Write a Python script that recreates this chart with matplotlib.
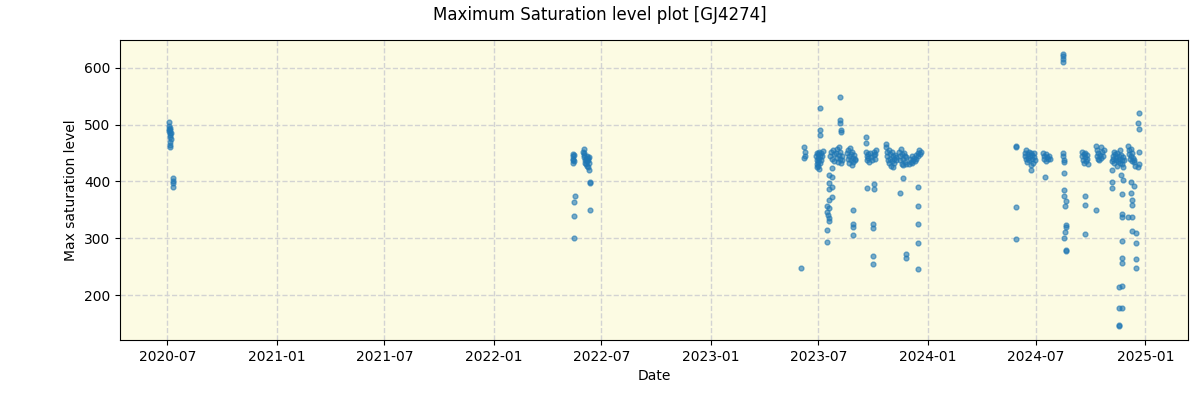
import numpy as np
import pandas as pd
import matplotlib
matplotlib.use('Agg')
import matplotlib.pyplot as plt
import matplotlib.dates as mdates

# season 2020
dates_2020 = ['2020-07-03', '2020-07-03', '2020-07-03', '2020-07-04', '2020-07-05', '2020-07-05',
              '2020-07-06', '2020-07-06', '2020-07-06', '2020-07-07', '2020-07-07', '2020-07-06',
              '2020-07-06', '2020-07-06', '2020-07-11', '2020-07-11', '2020-07-11', '2020-07-11']
sat_2020 = [505, 497, 492, 488, 495, 485, 490, 482, 478, 486, 475, 470, 465, 461, 406, 401, 398, 391]

# season 2022
dates_2022 = ['2022-05-14', '2022-05-14', '2022-05-15', '2022-05-15', '2022-05-15', '2022-05-16',
              '2022-05-16', '2022-05-17', '2022-05-16', '2022-05-16', '2022-05-16',
              '2022-05-31', '2022-06-01', '2022-06-02', '2022-06-02', '2022-06-02', '2022-06-03',
              '2022-06-04', '2022-06-05', '2022-06-05', '2022-06-06', '2022-06-07', '2022-06-07',
              '2022-06-08', '2022-06-08', '2022-06-09', '2022-06-10', '2022-06-10', '2022-06-11',
              '2022-06-12', '2022-06-12', '2022-06-12']
sat_2022 = [448, 444, 440, 437, 433, 446, 436, 375, 363, 339, 300,
            452, 447, 457, 450, 443, 438, 433, 440, 430, 445, 436, 428, 441, 425, 438, 432, 443,
            420, 399, 398, 349]

# season 2023
dates_2023 = ['2023-06-02',
              '2023-06-07', '2023-06-08', '2023-06-08', '2023-06-07',
              '2023-06-27', '2023-06-28', '2023-06-28', '2023-06-29', '2023-06-29', '2023-06-30',
              '2023-06-30', '2023-07-01', '2023-07-01', '2023-07-02', '2023-07-02', '2023-07-02',
              '2023-07-03', '2023-07-03', '2023-07-03', '2023-07-04', '2023-07-04', '2023-07-05',
              '2023-07-06', '2023-07-07', '2023-07-08',
              '2023-07-24', '2023-07-19', '2023-07-24', '2023-07-19', '2023-07-19', '2023-07-24',
              '2023-07-24', '2023-07-19', '2023-07-16', '2023-07-19', '2023-07-16', '2023-07-17',
              '2023-07-19', '2023-07-19', '2023-07-16', '2023-07-16',
              '2023-07-21', '2023-07-23', '2023-07-24', '2023-07-26', '2023-07-27', '2023-07-28',
              '2023-07-30', '2023-08-01', '2023-08-02', '2023-08-03', '2023-08-04', '2023-08-05',
              '2023-08-06', '2023-08-07', '2023-08-08', '2023-08-09', '2023-08-10',
              '2023-08-06', '2023-08-06', '2023-08-06', '2023-08-08', '2023-08-08',
              '2023-08-18', '2023-08-19', '2023-08-20', '2023-08-21', '2023-08-22', '2023-08-23',
              '2023-08-24', '2023-08-25', '2023-08-26', '2023-08-27', '2023-08-28', '2023-08-29',
              '2023-08-30', '2023-08-31', '2023-09-01',
              '2023-08-28', '2023-08-28', '2023-08-28', '2023-08-28',
              '2023-09-19', '2023-09-19', '2023-09-19', '2023-09-20', '2023-09-20', '2023-09-21',
              '2023-09-22', '2023-09-23', '2023-09-24', '2023-09-26', '2023-09-28', '2023-09-30',
              '2023-10-02', '2023-10-03', '2023-10-03', '2023-10-03', '2023-10-01', '2023-10-01',
              '2023-10-01', '2023-10-01', '2023-10-04', '2023-10-05', '2023-10-06',
              '2023-10-23', '2023-10-23', '2023-10-24', '2023-10-25', '2023-10-26', '2023-10-27',
              '2023-10-28', '2023-10-29', '2023-10-30', '2023-10-31', '2023-11-01', '2023-11-02',
              '2023-11-03', '2023-11-04', '2023-11-05', '2023-11-06', '2023-11-07', '2023-11-08',
              '2023-11-09',
              '2023-11-14', '2023-11-15', '2023-11-16', '2023-11-17', '2023-11-18', '2023-11-19',
              '2023-11-20', '2023-11-21', '2023-11-22', '2023-11-23', '2023-11-24', '2023-11-25',
              '2023-11-26', '2023-11-21', '2023-11-15', '2023-11-26', '2023-11-26',
              '2023-12-01', '2023-12-02', '2023-12-03', '2023-12-05', '2023-12-06', '2023-12-07',
              '2023-12-09', '2023-12-10', '2023-12-12', '2023-12-13', '2023-12-15', '2023-12-16',
              '2023-12-18', '2023-12-19', '2023-12-20',
              '2023-12-16', '2023-12-16', '2023-12-16', '2023-12-16', '2023-12-16']
sat_2023 = [247,
            460, 452, 445, 441,
            445, 438, 430, 450, 425, 442, 435, 448, 428, 452, 440, 422, 529, 491, 482, 445, 432,
            450, 438, 444, 453,
            424, 411, 408, 397, 387, 390, 373, 367, 357, 353, 346, 341, 336, 331, 315, 294,
            445, 452, 440, 455, 448, 436, 450, 442, 458, 435, 461, 447, 452, 440, 433, 445, 438,
            549, 508, 503, 490, 487,
            450, 440, 455, 432, 445, 459, 437, 448, 429, 452, 442, 435, 447, 440, 438,
            350, 325, 320, 306,
            478, 468, 452, 445, 438, 388, 448, 441, 435, 450, 443, 437, 452, 446, 396, 387, 325,
            318, 269, 255, 440, 449, 455,
            466, 460, 452, 445, 438, 456, 432, 448, 440, 428, 452, 436, 445, 426, 440, 433, 447,
            437, 443,
            452, 445, 438, 457, 430, 448, 440, 429, 451, 435, 445, 430, 443, 406, 380, 272, 265,
            430, 440, 435, 445, 432, 438, 442, 436, 447, 440, 450, 444, 455, 448, 452,
            390, 357, 325, 292, 246]

# season 2024
dates_2024 = ['2024-05-28', '2024-05-28', '2024-05-28', '2024-05-28',
              '2024-06-12', '2024-06-13', '2024-06-14', '2024-06-15', '2024-06-16', '2024-06-17',
              '2024-06-18', '2024-06-19', '2024-06-20', '2024-06-21', '2024-06-22', '2024-06-22',
              '2024-06-23', '2024-06-24', '2024-06-25', '2024-06-26', '2024-06-27', '2024-06-28',
              '2024-06-29',
              '2024-07-13', '2024-07-14', '2024-07-15', '2024-07-16', '2024-07-17', '2024-07-18',
              '2024-07-19', '2024-07-21', '2024-07-23', '2024-07-25',
              '2024-08-15', '2024-08-15', '2024-08-15', '2024-08-15', '2024-08-16', '2024-08-16',
              '2024-08-17', '2024-08-17', '2024-08-17', '2024-08-17', '2024-08-17', '2024-08-20',
              '2024-08-18', '2024-08-20', '2024-08-20', '2024-08-19', '2024-08-17', '2024-08-20',
              '2024-08-20',
              '2024-09-16', '2024-09-17', '2024-09-18', '2024-09-19', '2024-09-20', '2024-09-21',
              '2024-09-22', '2024-09-23', '2024-09-24', '2024-09-25', '2024-09-26',
              '2024-09-21', '2024-09-21', '2024-09-21',
              '2024-10-10', '2024-10-11', '2024-10-12', '2024-10-13', '2024-10-14', '2024-10-15',
              '2024-10-16', '2024-10-18', '2024-10-19', '2024-10-20', '2024-10-22', '2024-10-24',
              '2024-10-10',
              '2024-11-06', '2024-11-07', '2024-11-08', '2024-11-09', '2024-11-10', '2024-11-11',
              '2024-11-12', '2024-11-13', '2024-11-14', '2024-11-15', '2024-11-16', '2024-11-17',
              '2024-11-18', '2024-11-19', '2024-11-20', '2024-11-21', '2024-11-22', '2024-11-23',
              '2024-11-24', '2024-11-25', '2024-11-26',
              '2024-11-06', '2024-11-06', '2024-11-06', '2024-11-21', '2024-11-25', '2024-11-23',
              '2024-11-23', '2024-11-23', '2024-11-23', '2024-11-23', '2024-11-23', '2024-11-18',
              '2024-11-23', '2024-11-18', '2024-11-23', '2024-11-18', '2024-11-18',
              '2024-12-03', '2024-12-04', '2024-12-05', '2024-12-06', '2024-12-07', '2024-12-08',
              '2024-12-09', '2024-12-10', '2024-12-11', '2024-12-12', '2024-12-13', '2024-12-14',
              '2024-12-08', '2024-12-13', '2024-12-08', '2024-12-10', '2024-12-10', '2024-12-03',
              '2024-12-10', '2024-12-10', '2024-12-17', '2024-12-17', '2024-12-17', '2024-12-17',
              '2024-12-22', '2024-12-19', '2024-12-22', '2024-12-22', '2024-12-22', '2024-12-19']
sat_2024 = [463, 460, 355, 299,
            450, 445, 440, 455, 435, 448, 442, 452, 437, 445, 429, 420, 450, 440, 447, 433, 443,
            451, 438,
            450, 445, 440, 408, 448, 436, 443, 439, 445, 440,
            625, 621, 616, 611, 450, 444, 437, 434, 415, 385, 374, 366, 357, 323, 320, 311, 300,
            280, 278,
            445, 452, 438, 448, 432, 443, 450, 436, 440, 446, 430, 374, 359, 307,
            463, 455, 445, 440, 450, 438, 447, 460, 442, 452, 445, 455, 350,
            436, 445, 440, 452, 432, 448, 438, 443, 428, 450, 436, 445, 440, 455, 433, 447, 438,
            430, 443, 426, 437,
            420, 399, 388, 411, 403, 378, 343, 337, 295, 265, 256, 214, 216, 177, 177, 145, 147,
            462, 455, 448, 440, 458, 445, 436, 450, 442, 438, 434, 428,
            399, 392, 380, 367, 359, 337, 337, 313, 309, 292, 263, 247,
            521, 503, 492, 452, 431, 426]

dates = pd.to_datetime(dates_2020 + dates_2022 + dates_2023 + dates_2024)
sat = np.array(sat_2020 + sat_2022 + sat_2023 + sat_2024)

fig = plt.figure(figsize=(12, 4), dpi=100)
ax = fig.add_axes([0.1, 0.15, 0.89, 0.75])
ax.set_facecolor('#fcfbe3')

ax.scatter(dates, sat, s=12, alpha=0.6, color='tab:blue')

ax.xaxis.set_major_locator(mdates.MonthLocator(bymonth=[1, 7]))
ax.xaxis.set_major_formatter(mdates.DateFormatter('%Y-%m'))
ax.grid(True, linestyle='--', color='lightgray', linewidth=1)
ax.set_axisbelow(True)

ax.set_xlabel('Date')
ax.set_ylabel('Max saturation level')
fig.suptitle('Maximum Saturation level plot [GJ4274]', y=0.985)

fig.savefig('out.png')
